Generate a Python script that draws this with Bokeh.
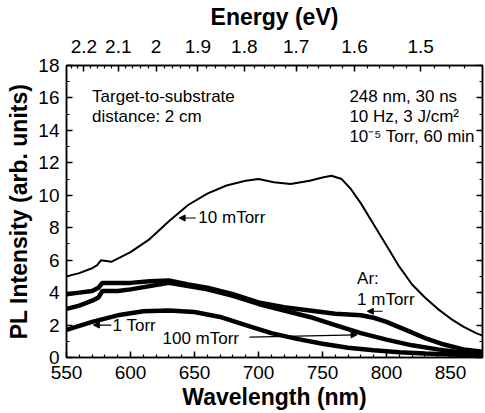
from bokeh.plotting import figure
from bokeh.models import (Range1d, LinearAxis, FixedTicker, SingleIntervalTicker,
                          CustomJSTickFormatter, Arrow, NormalHead, Label)
from bokeh.embed import file_html
from bokeh.resources import INLINE

# ---------------- data ----------------
wl_10mtorr = [550, 560, 570, 574, 577, 585, 600, 615, 630, 645, 660, 675, 690, 700,
              712, 725, 740, 750, 757, 765, 772, 780, 790, 800, 810, 820, 830, 840,
              850, 860, 870, 880]
pl_10mtorr = [5.0, 5.2, 5.5, 5.7, 6.0, 5.9, 6.5, 7.3, 8.4, 9.4, 10.1, 10.6, 10.9, 11.0,
              10.8, 10.7, 10.9, 11.1, 11.2, 11.0, 10.4, 9.5, 8.2, 6.9, 5.6, 4.5, 3.7, 3.0,
              2.4, 1.9, 1.5, 1.2]

wl_ar1mtorr = [550, 560, 570, 575, 578, 590, 600, 615, 630, 645, 660, 680, 700, 720,
               740, 760, 780, 790, 800, 815, 830, 845, 860, 880]
pl_ar1mtorr = [3.9, 4.0, 4.1, 4.3, 4.6, 4.6, 4.6, 4.7, 4.75, 4.5, 4.3, 3.9, 3.4, 3.1,
               2.9, 2.7, 2.6, 2.45, 2.2, 1.7, 1.2, 0.8, 0.5, 0.3]

wl_100mtorr = [550, 560, 570, 575, 578, 590, 600, 615, 630, 645, 660, 680, 700, 720,
               740, 760, 780, 800, 820, 840, 860, 880]
pl_100mtorr = [3.0, 3.2, 3.5, 3.7, 4.1, 4.1, 4.2, 4.4, 4.6, 4.4, 4.2, 3.8, 3.3, 2.9,
               2.5, 2.0, 1.5, 1.1, 0.75, 0.5, 0.3, 0.2]

wl_1torr = [550, 570, 590, 610, 630, 650, 670, 690, 710, 730, 750, 770, 790, 810,
            830, 850, 880]
pl_1torr = [1.7, 2.2, 2.6, 2.85, 2.9, 2.8, 2.5, 2.0, 1.5, 1.15, 0.85, 0.6, 0.45, 0.33,
            0.25, 0.18, 0.12]

energy_ticks = [2.2, 2.1, 2.0, 1.9, 1.8, 1.7, 1.6, 1.5]
energy_minor = [round(1.44 + 0.02 * i, 2) for i in range(42)]
HC = 1240.0  # eV*nm

FONT = "Liberation Sans"

p = figure(width=485, height=413, output_backend="svg", toolbar_location=None,
           x_range=Range1d(550, 875), y_range=Range1d(0, 18),
           min_border_left=66, min_border_right=3, min_border_top=60,
           min_border_bottom=56)
p.background_fill_color = "white"
p.border_fill_color = "white"
p.outline_line_color = "black"
p.outline_line_width = 1.5
p.grid.visible = False

# ---------------- curves ----------------
p.line(wl_10mtorr, pl_10mtorr, line_color="black", line_width=2)
p.line(wl_ar1mtorr, pl_ar1mtorr, line_color="black", line_width=4.5)
p.line(wl_100mtorr, pl_100mtorr, line_color="black", line_width=4.5)
p.line(wl_1torr, pl_1torr, line_color="black", line_width=4.5)

# ---------------- axes ----------------
def style_axis(ax, show_labels=True):
    ax.axis_line_color = "black"
    ax.axis_line_width = 1.5
    ax.major_tick_in = 6
    ax.major_tick_out = 0
    ax.minor_tick_in = 3
    ax.minor_tick_out = 0
    ax.major_tick_line_width = 1.5
    ax.minor_tick_line_width = 1.2
    ax.major_label_text_font = FONT
    ax.major_label_text_font_size = "19px"
    ax.major_label_text_color = "black"
    ax.axis_label_text_font = FONT
    ax.axis_label_text_font_size = "23px"
    ax.axis_label_text_font_style = "bold"
    ax.axis_label_text_color = "black"
    if not show_labels:
        ax.major_label_text_alpha = 0

xa = p.xaxis[0]
xa.ticker = SingleIntervalTicker(interval=50, num_minor_ticks=5)
xa.axis_label = "Wavelength (nm)"
xa.major_label_standoff = 8
xa.axis_label_standoff = 2
style_axis(xa)

ya = p.yaxis[0]
ya.ticker = SingleIntervalTicker(interval=2, num_minor_ticks=2)
ya.axis_label = "PL Intensity (arb. units)"
ya.major_label_standoff = 7
ya.axis_label_standoff = 3
style_axis(ya)

top = LinearAxis(axis_label="Energy (eV)")
top.ticker = FixedTicker(ticks=[HC / e for e in energy_ticks],
                         minor_ticks=[HC / e for e in energy_minor])
top.formatter = CustomJSTickFormatter(code="return String(Math.round(12400 / tick) / 10);")
top.major_label_standoff = 13
top.axis_label_standoff = 7
style_axis(top)
p.add_layout(top, "above")

right = LinearAxis()
right.ticker = SingleIntervalTicker(interval=2, num_minor_ticks=2)
style_axis(right, show_labels=False)
right.major_label_text_font_size = "1px"
right.major_label_standoff = 0
p.add_layout(right, "right")

# ---------------- annotations ----------------
def txt(x, y, s, size="17px"):
    p.add_layout(Label(x=x, y=y, text=s, text_font=FONT, text_font_size=size,
                       text_color="black", text_baseline="middle", text_align="left"))

txt(570, 16.1, "Target-to-substrate")
txt(570, 14.85, "distance: 2 cm")
txt(771, 16.1, "248 nm, 30 ns")
txt(771, 14.85, "10 Hz, 3 J/cm\u00b2")
txt(771, 13.6, "10\u207b\u2075 Torr, 60 min")
txt(653, 8.6, "10 mTorr")
txt(777, 4.85, "Ar:")
txt(777, 3.6, "1 mTorr")
txt(586, 2.0, "1 Torr")
txt(625, 1.15, "100 mTorr")

def arrow(x0, y0, x1, y1):
    p.add_layout(Arrow(end=NormalHead(size=6, fill_color="black", line_color="black"),
                       x_start=x0, y_start=y0, x_end=x1, y_end=y1,
                       line_color="black", line_width=1.2))

arrow(651, 8.6, 638, 8.6)
arrow(797, 2.85, 785, 2.85)
arrow(585, 2.0, 571, 2.0)
arrow(693, 1.25, 777, 1.4)

open("out.html", "w").write(file_html(p, INLINE))
